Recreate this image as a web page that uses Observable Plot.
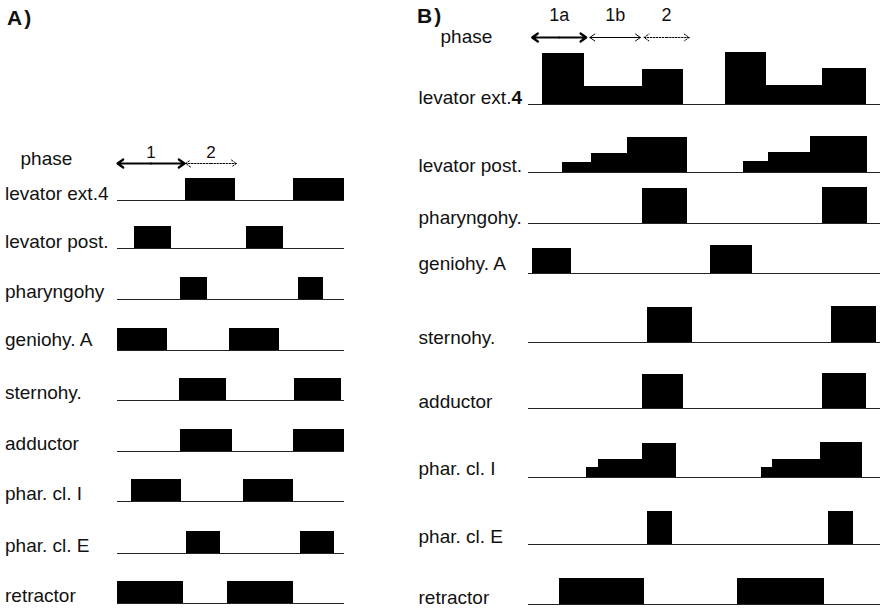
<!DOCTYPE html>
<html>
<head>
<meta charset="utf-8">
<script src="https://cdn.jsdelivr.net/npm/d3@7"></script>
<script src="https://cdn.jsdelivr.net/npm/@observablehq/plot@0.6"></script>
<style>
  body { margin: 0; background: #fff; }
  #chart { position: relative; width: 880px; height: 610px; overflow: hidden;
           font-family: "Liberation Sans", Arial, Helvetica, sans-serif; color: #111; }
  .panel-title { position: absolute; font-weight: bold; font-size: 21px; line-height: 21px; letter-spacing: 2px; }
  .row { position: absolute; }
</style>
</head>
<body>
<div id="chart"></div>
<script>
// ---------------- DATA ----------------
// Panel A: on/off muscle bursts, time in % of one feeding cycle
const musclesA = ["levator ext.4", "levator post.", "pharyngohy", "geniohy. A", "sternohy.",
                  "adductor", "phar. cl. I", "phar. cl. E", "retractor"];
const onsetA  = [[63, 163], [16, 119], [58, 167], [0, 104], [57, 164], [58, 163], [13, 117], [64, 169], [0, 102]];
const offsetA = [[109, 210], [50, 154], [83, 191], [46, 150], [101, 207], [106, 210], [59, 163], [95, 201], [61, 163]];
const phaseNamesA = ["1", "2"];
const phaseStartA = [0, 63];
const phaseEndA   = [62, 110];

// Panel B: graded bursts; each burst = step edges (time units) + amplitude of each step (arbitrary units)
const musclesB = ["levator ext.4", "levator post.", "pharyngohy.", "geniohy. A", "sternohy.",
                  "adductor", "phar. cl. I", "phar. cl. E", "retractor"];
const edgesB = [
  [[8, 31, 63, 86], [109, 132, 163, 187]],
  [[19, 35, 55, 88], [119, 133, 156, 188]],
  [[63, 88], [163, 188]],
  [[2, 24], [101, 124]],
  [[66, 91], [168, 193]],
  [[63, 86], [163, 187]],
  [[32, 39, 63, 82], [129, 135, 162, 185]],
  [[66, 80], [166, 180]],
  [[17, 64], [116, 164]]
];
const ampsB = [
  [[5.1, 1.8, 3.5], [5.2, 1.9, 3.6]],
  [[1.0, 1.9, 3.5], [1.1, 2.0, 3.6]],
  [[3.5], [3.6]],
  [[2.5], [2.8]],
  [[3.5], [3.6]],
  [[3.4], [3.5]],
  [[1.0, 1.8, 3.4], [1.0, 1.8, 3.5]],
  [[3.3], [3.3]],
  [[2.6], [2.6]]
];
const phaseNamesB = ["1a", "1b", "2"];
const phaseStartB = [2, 34, 64];
const phaseEndB   = [32, 62, 89];

// ---------------- LAYOUT (pixels) ----------------
const FONT = '"Liberation Sans", Arial, Helvetica, sans-serif';
const panels = {
  A: { title: "A)", titleLeft: 7, titleTop: 7,
       left: 0, width: 440, frameLeft: 117, frameRight: 344, tMax: 210,
       yMax: 1, unitPx: 22, labelX: 4.5,
       baselines: [200, 248, 299, 350, 400, 451, 501, 553, 603],
       labelDy:   [-1, -1, -2, -5, -2, -2, -2, -2, -2],
       phaseY: 163, phaseLabelX: 20, phaseWordDy: 1, phaseNumGap: 6, phaseNumSize: 17 },
  B: { title: "B)", titleLeft: 417, titleTop: 5,
       left: 410, width: 470, frameLeft: 528, frameRight: 880, tMax: 195,
       yMax: 6, unitPx: 10, labelX: 418,
       baselines: [104, 172, 223, 273, 342, 408, 477, 544, 604],
       labelDy:   [-1, -1, 0, -4, 1, -1, -3, -2, -1],
       phaseY: 37, phaseLabelX: 440, phaseWordDy: 5, phaseNumGap: 17, phaseNumSize: 18 }
};
const arrowStyle = {
  "1":  { strokeWidth: 2.2, dash: null, head: 7 },
  "1a": { strokeWidth: 2.2, dash: null, head: 7 },
  "1b": { strokeWidth: 1, dash: null, head: 6 },
  "2":  { strokeWidth: 1, dash: "1.5,1.5", head: 6 }
};

const chart = document.getElementById("chart");

function place(svg, left, top) {
  const div = document.createElement("div");
  div.className = "row";
  div.style.left = left + "px";
  div.style.top = top + "px";
  div.appendChild(svg);
  chart.appendChild(div);
  return svg;
}

function rowPlot(P, name, bars, baseline, labelDy) {
  const mt = 2, mb = 10;
  const plotH = P.yMax * P.unitPx;
  const svg = Plot.plot({
    width: P.width, height: mt + plotH + mb,
    marginLeft: P.frameLeft - P.left, marginRight: P.left + P.width - P.frameRight,
    marginTop: mt, marginBottom: mb,
    x: { domain: [0, P.tMax], axis: null },
    y: { domain: [0, P.yMax], axis: null },
    style: { background: "transparent", overflow: "visible", fontFamily: FONT },
    marks: [
      Plot.ruleY([0], { stroke: "#222", strokeWidth: 1 }),
      Plot.rectY(bars, { x1: "t0", x2: "t1", y1: 0, y2: "amp", fill: "#000", inset: 0, shapeRendering: "crispEdges" }),
      Plot.text([name], { text: d => d, frameAnchor: "bottom-left", textAnchor: "start", lineAnchor: "bottom",
                          dx: P.labelX - P.frameLeft, dy: labelDy, fontSize: 19, fill: "#111" })
    ]
  });
  return place(svg, P.left, baseline - mt - plotH);
}

function phasePlot(P, names, starts, ends) {
  const phases = names.map((n, i) => ({ name: n, t0: starts[i], t1: ends[i], mid: (starts[i] + ends[i]) / 2 }));
  const halves = phases.flatMap(p => [{ name: p.name, from: p.mid, to: p.t0 }, { name: p.name, from: p.mid, to: p.t1 }]);
  const top = P.phaseY - 30, mb = 10;
  const arrowMarks = Object.keys(arrowStyle).map(k => {
    const s = arrowStyle[k];
    return Plot.arrow(halves.filter(h => h.name === k), {
      x1: "from", x2: "to", y1: 0, y2: 0, stroke: "#000", strokeWidth: s.strokeWidth,
      strokeDasharray: s.dash, headLength: s.head * 1.5 / s.strokeWidth, headAngle: 70
    });
  });
  const svg = Plot.plot({
    width: P.width, height: 40,
    marginLeft: P.frameLeft - P.left, marginRight: P.left + P.width - P.frameRight,
    marginTop: 0, marginBottom: mb,
    x: { domain: [0, P.tMax], axis: null },
    y: { domain: [0, 1], axis: null },
    style: { background: "transparent", overflow: "visible", fontFamily: FONT },
    marks: [
      ...arrowMarks,
      Plot.text(phases, { x: "mid", y: 0, text: "name", lineAnchor: "bottom", dy: -P.phaseNumGap,
                          fontSize: P.phaseNumSize, fill: "#111" }),
      Plot.text(["phase"], { text: d => d, frameAnchor: "bottom-left", textAnchor: "start", lineAnchor: "bottom",
                             dx: P.phaseLabelX - P.frameLeft, dy: P.phaseWordDy, fontSize: 19, fill: "#111" })
    ]
  });
  return place(svg, P.left, top);
}

function title(P) {
  const d = document.createElement("div");
  d.className = "panel-title";
  d.textContent = P.title;
  d.style.left = P.titleLeft + "px";
  d.style.top = P.titleTop + "px";
  chart.appendChild(d);
}

// Panel A
title(panels.A);
phasePlot(panels.A, phaseNamesA, phaseStartA, phaseEndA);
musclesA.forEach((m, i) => {
  const bars = onsetA[i].map((t0, j) => ({ t0, t1: offsetA[i][j], amp: 1 }));
  rowPlot(panels.A, m, bars, panels.A.baselines[i], panels.A.labelDy[i]);
});

// Panel B
title(panels.B);
phasePlot(panels.B, phaseNamesB, phaseStartB, phaseEndB);
musclesB.forEach((m, i) => {
  const bars = edgesB[i].flatMap((edges, j) =>
    ampsB[i][j].map((amp, k) => ({ t0: edges[k], t1: edges[k + 1], amp })));
  const svg = rowPlot(panels.B, m, bars, panels.B.baselines[i], panels.B.labelDy[i]);
  d3.select(svg).selectAll("text")
    .filter(function () { return this.textContent === "levator ext.4"; })
    .each(function () {
      const t = d3.select(this);
      t.text("levator ext.");
      t.append("tspan").attr("font-weight", "bold").text("4");
    });
});
</script>
</body>
</html>
